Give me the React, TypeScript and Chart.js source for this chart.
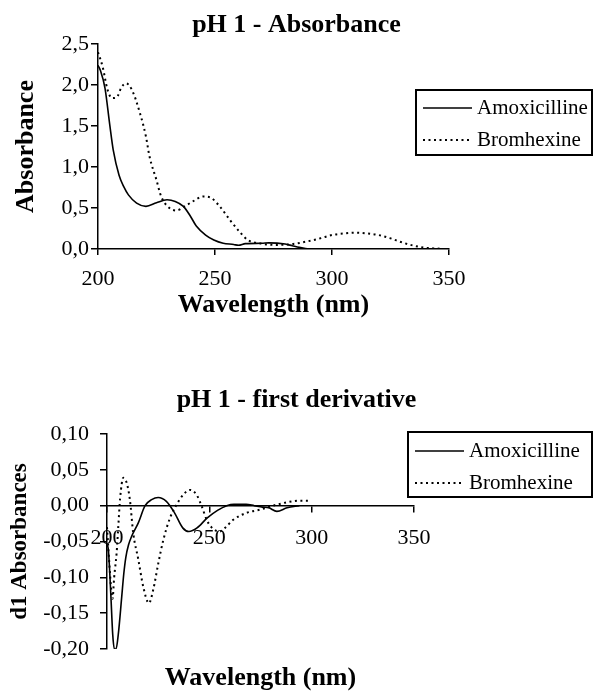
import React, { useEffect, useRef } from "react";
import { Chart, registerables } from "chart.js";

Chart.register(...registerables);

// ---------- Data: pH 1 - Absorbance ----------
const absTitle = "pH 1 - Absorbance";
const amoxAbsWl = [200, 201, 203, 205, 206.5, 209, 211, 213, 216.5, 220.5, 225, 229.5, 233, 236.5, 239.5, 242, 246, 249.5, 253.5, 258, 260, 263, 270, 273, 280, 283, 286, 290];
const amoxAbsVal = [2.24, 2.18, 1.96, 1.52, 1.21, 0.9, 0.76, 0.66, 0.56, 0.52, 0.565, 0.6, 0.58, 0.52, 0.4, 0.28, 0.17, 0.11, 0.07, 0.055, 0.045, 0.065, 0.07, 0.075, 0.06, 0.04, 0.02, 0.0];
const bromAbsWl = [200, 202, 204, 206, 208, 210, 212, 214.5, 218, 220.5, 222, 225, 227, 230.5, 233.5, 237, 240.5, 245, 248.5, 252, 256.5, 260.5, 264, 269, 276, 283, 289, 295, 300, 305, 310, 315, 320, 325, 330, 335, 340, 345, 348];
const bromAbsVal = [2.4, 2.22, 1.95, 1.84, 1.85, 1.97, 2.02, 1.94, 1.65, 1.37, 1.13, 0.84, 0.64, 0.5, 0.47, 0.52, 0.58, 0.64, 0.62, 0.52, 0.35, 0.21, 0.11, 0.07, 0.05, 0.06, 0.09, 0.13, 0.17, 0.19, 0.2, 0.19, 0.17, 0.13, 0.08, 0.04, 0.015, 0.005, 0.0];

// ---------- Data: pH 1 - first derivative ----------
const derTitle = "pH 1 - first derivative";
const amoxDerWl = [200, 200.6, 201.8, 202.8, 203.6, 204.4, 205.5, 207.2, 208.2, 209.2, 210.5, 212, 215.3, 218.6, 221.8, 225, 229, 233, 237, 240, 244, 249, 254, 258.5, 262, 268, 272, 276, 279, 283, 288, 294];
const amoxDerVal = [-0.055, -0.06, -0.12, -0.18, -0.2, -0.2, -0.18, -0.127, -0.095, -0.072, -0.055, -0.043, -0.024, 0.0, 0.0084, 0.0115, 0.006, -0.01, -0.031, -0.036, -0.031, -0.017, -0.0065, 0.0, 0.002, 0.002, 0.0, -0.002, -0.003, -0.008, -0.003, 0.0];
const bromDerWl = [200, 201, 202, 202.7, 203.5, 204.7, 205.5, 206.4, 208, 209.6, 211.2, 212.8, 215.3, 217.7, 220.5, 222.6, 225.1, 227.5, 230.8, 234, 237.3, 240.5, 243.8, 246.3, 248.7, 251, 255, 258, 261.7, 268.2, 274.7, 281.2, 287.7, 294.2, 299];
const bromDerVal = [-0.03, -0.075, -0.115, -0.13, -0.1, -0.066, -0.03, 0.01, 0.039, 0.032, 0.008, -0.038, -0.075, -0.113, -0.136, -0.117, -0.08, -0.048, -0.017, 0.0014, 0.0154, 0.022, 0.015, -0.001, -0.0196, -0.03, -0.036, -0.03, -0.0196, -0.01, -0.0056, 0.0, 0.0046, 0.007, 0.007];

const seriesNames = ["Amoxicilline", "Bromhexine"];
const xTicksLabel = "Wavelength (nm)";
const absYLabel = "Absorbance";
const derYLabel = "d1 Absorbances";

const SERIF = "'Liberation Serif', 'Times New Roman', serif";

const pts = (xs: number[], ys: number[]) => xs.map((x, i) => ({ x, y: ys[i] }));

const boxLegend = {
  id: "boxLegend",
  afterDraw(chart: any, _args: any, opts: any) {
    const { ctx } = chart;
    ctx.save();
    ctx.fillStyle = "#fff";
    ctx.fillRect(opts.left, opts.top, opts.right - opts.left, opts.bottom - opts.top);
    ctx.strokeStyle = "#000";
    ctx.lineWidth = 2;
    ctx.setLineDash([]);
    ctx.strokeRect(opts.left, opts.top, opts.right - opts.left, opts.bottom - opts.top);
    chart.data.datasets.forEach((ds: any, i: number) => {
      const y = opts.rows[i];
      ctx.beginPath();
      ctx.setLineDash(ds.borderDash || []);
      ctx.lineWidth = ds.borderWidth;
      ctx.strokeStyle = ds.borderColor;
      ctx.moveTo(opts.lineStart, y);
      ctx.lineTo(opts.lineEnd, y);
      ctx.stroke();
      ctx.setLineDash([]);
      ctx.fillStyle = "#000";
      ctx.font = `${opts.fontSize}px ${SERIF}`;
      ctx.textBaseline = "middle";
      ctx.textAlign = "left";
      ctx.fillText(ds.label, opts.textX, y);
    });
    ctx.restore();
  },
};

const makeDatasets = (aw: number[], av: number[], bw: number[], bv: number[]) => [
  {
    label: seriesNames[0],
    data: pts(aw, av),
    borderColor: "#000",
    borderWidth: 1.6,
    pointRadius: 0,
    cubicInterpolationMode: "monotone" as const,
    fill: false,
  },
  {
    label: seriesNames[1],
    data: pts(bw, bv),
    borderColor: "#000",
    borderWidth: 2,
    borderDash: [2, 3.5],
    pointRadius: 0,
    cubicInterpolationMode: "monotone" as const,
    fill: false,
  },
];

const tickFont = { family: SERIF, size: 22 };
const titleFont = { family: SERIF, size: 26, weight: "bold" as const };

const spacer = (w: number) => ({
  type: "linear",
  position: "right",
  afterFit: (s: any) => { s.width = w; },
  ticks: { display: false },
  grid: { display: false },
  border: { display: false },
  title: { display: false },
});

function AbsChart() {
  const ref = useRef<HTMLCanvasElement>(null);
  useEffect(() => {
    const chart = new Chart(ref.current!, {
      type: "line",
      data: { datasets: makeDatasets(amoxAbsWl, amoxAbsVal, bromAbsWl, bromAbsVal) as any },
      plugins: [boxLegend],
      options: {
        animation: false,
        responsive: false,
        devicePixelRatio: 1,
        layout: { padding: 0 },
        plugins: {
          legend: { display: false },
          tooltip: { enabled: false },
          title: {
            display: true,
            text: absTitle,
            color: "#000",
            font: titleFont,
            padding: { top: 9.4, bottom: 3.4 },
          },
          boxLegend: {
            left: 416, top: 90, right: 592, bottom: 155,
            rows: [108, 140], lineStart: 423, lineEnd: 472, textX: 477, fontSize: 21,
          },
        } as any,
        scales: {
          x: {
            type: "linear",
            min: 200,
            max: 350,
            afterFit: (s: any) => { s.height = 81; },
            ticks: { stepSize: 50, color: "#000", font: tickFont, padding: 11, maxRotation: 0, callback: (v: any) => String(v) },
            grid: { display: true, drawOnChartArea: false, drawTicks: true, tickLength: 6, color: "#000", lineWidth: 1.5 },
            border: { display: true, color: "#000", width: 1.5 },
            title: { display: true, text: xTicksLabel, color: "#000", font: titleFont, padding: { top: 0, bottom: 9.4 } },
          },
          y: {
            type: "linear",
            min: 0,
            max: 2.5,
            afterFit: (s: any) => { s.width = 98; },
            ticks: { stepSize: 0.5, color: "#000", font: tickFont, padding: 2, callback: (v: any) => Number(v).toFixed(1).replace(".", ",") },
            grid: { display: true, drawOnChartArea: false, drawTicks: true, tickLength: 7, color: "#000", lineWidth: 1.5 },
            border: { display: true, color: "#000", width: 1.5 },
            title: { display: true, text: absYLabel, color: "#000", font: titleFont, padding: { top: 10.4, bottom: 0 } },
          },
          rightSpace: spacer(144),
        },
      } as any,
    });
    return () => chart.destroy();
  }, []);
  return <canvas ref={ref} width={593} height={330} style={{ position: "absolute", left: 0, top: 0, width: 593, height: 330 }} />;
}

function DerChart() {
  const ref = useRef<HTMLCanvasElement>(null);
  useEffect(() => {
    const chart = new Chart(ref.current!, {
      type: "line",
      data: { datasets: makeDatasets(amoxDerWl, amoxDerVal, bromDerWl, bromDerVal) as any },
      plugins: [boxLegend],
      options: {
        animation: false,
        responsive: false,
        devicePixelRatio: 1,
        layout: { padding: 0 },
        plugins: {
          legend: { display: false },
          tooltip: { enabled: false },
          title: {
            display: true,
            text: derTitle,
            color: "#000",
            font: titleFont,
            padding: { top: 54.4, bottom: 18.4 },
          },
          boxLegend: {
            left: 408, top: 102, right: 592, bottom: 167,
            rows: [121, 153], lineStart: 415, lineEnd: 464, textX: 469, fontSize: 21,
          },
        } as any,
        scales: {
          x: {
            type: "linear",
            position: { y: 0 },
            min: 200,
            max: 350,
            ticks: { stepSize: 50, color: "#000", font: tickFont, padding: 13, maxRotation: 0, callback: (v: any) => String(v) },
            grid: { display: true, drawOnChartArea: false, drawTicks: true, tickLength: 6, color: "#000", lineWidth: 1.5 },
            border: { display: true, color: "#000", width: 1.5 },
            title: { display: false },
          },
          x2: {
            type: "linear",
            position: "bottom",
            afterFit: (s: any) => { s.height = 52; },
            ticks: { display: false },
            grid: { display: false },
            border: { display: false },
            title: { display: true, text: xTicksLabel, color: "#000", font: titleFont, padding: { top: 0, bottom: 7.4 } },
          },
          y: {
            type: "linear",
            min: -0.2,
            max: 0.1,
            afterFit: (s: any) => { s.width = 107; },
            ticks: { stepSize: 0.05, color: "#000", font: tickFont, padding: 11, callback: (v: any) => { const t = Number(v).toFixed(2); return (t === "-0.00" ? "0.00" : t).replace(".", ","); } },
            grid: { display: true, drawOnChartArea: false, drawTicks: true, tickLength: 7, color: "#000", lineWidth: 1.5 },
            border: { display: true, color: "#000", width: 1.5 },
            title: { display: true, text: derYLabel, color: "#000", font: { family: SERIF, size: 23, weight: "bold" }, padding: { top: 6, bottom: 0 } },
          },
          rightSpace: spacer(179),
        },
      } as any,
    });
    return () => chart.destroy();
  }, []);
  return <canvas ref={ref} width={593} height={371} style={{ position: "absolute", left: 0, top: 330, width: 593, height: 371 }} />;
}

export default function App() {
  return (
    <div style={{ position: "absolute", left: 0, top: 0, width: 593, height: 691, overflow: "hidden", background: "#fff" }}>
      <AbsChart />
      <DerChart />
    </div>
  );
}
